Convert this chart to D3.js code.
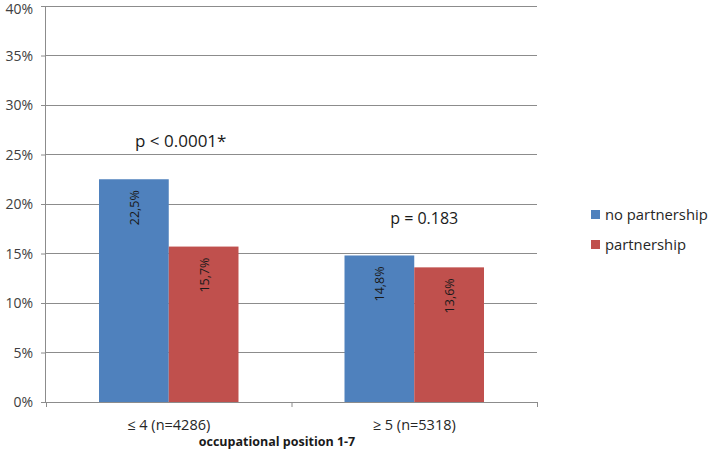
<!DOCTYPE html>
<html><head><meta charset="utf-8">
<script src="https://cdn.jsdelivr.net/npm/d3@7"></script>
<style>body{margin:0;background:#fff}svg{display:block}text{font-family:"Open Sans","DejaVu Sans",sans-serif}</style>
</head><body>
<svg id="c" width="709" height="451"></svg>
<script>
const categories = ["≤ 4 (n=4286)", "≥ 5 (n=5318)"];
const seriesNames = ["no partnership", "partnership"];
const noPartnership = [22.5, 14.8];
const partnership = [15.7, 13.6];
const valueLabels = [["22,5%", "14,8%"], ["15,7%", "13,6%"]];
const pLabels = ["p < 0.0001*", "p = 0.183"];
const yTicks = [0, 5, 10, 15, 20, 25, 30, 35, 40];
const colors = ["#4f81bd", "#c0504d"];

const svg = d3.select("#c");
const L = 46, R = 537, T = 6, B = 402;
const y = d3.scaleLinear().domain([0, 40]).range([B, T]);
const x = d3.scaleBand().domain(categories).range([L, R]);
const xs = d3.scaleBand().domain(seriesNames).range([0, x.bandwidth()]).paddingOuter(0.76).paddingInner(0);

// gridlines
svg.append("g").selectAll("line").data(yTicks.filter(d => d > 0)).join("line")
  .attr("x1", L).attr("x2", R).attr("y1", d => y(d)).attr("y2", d => y(d))
  .attr("stroke", "#8c8c8c").attr("stroke-width", 1).attr("shape-rendering", "crispEdges");

// y axis
const yAxis = d3.axisLeft(y).tickValues(yTicks).tickFormat(d => d + "%").tickSize(5).tickPadding(8);
const gy = svg.append("g").attr("transform", `translate(${L},0)`).call(yAxis);
gy.select(".domain").attr("stroke", "#8c8c8c").attr("d", `M-0.5,${T}V${B}`);
gy.selectAll(".tick line").attr("stroke", "#8c8c8c");
gy.selectAll(".tick text").attr("font-size", 14).attr("fill", "#404040").attr("dy", "0.34em")
  .filter(d => d === 40).attr("dy", "0.5em");

// bars
const series = [noPartnership, partnership];
series.forEach((vals, si) => {
  svg.append("g").selectAll("rect").data(vals).join("rect")
    .attr("x", (d, i) => x(categories[i]) + xs(seriesNames[si]))
    .attr("y", d => y(d)).attr("width", xs.bandwidth()).attr("height", d => B - y(d))
    .attr("fill", colors[si]);
  svg.append("g").selectAll("text").data(vals).join("text")
    .attr("transform", (d, i) => `translate(${x(categories[i]) + xs(seriesNames[si]) + xs.bandwidth() / 2 + 5},${y(d) + 11}) rotate(-90)`)
    .attr("text-anchor", "end").attr("font-size", 12.5).attr("fill", "#1a1a1a")
    .text((d, i) => valueLabels[si][i]);
});

// x axis
const gx = svg.append("g").attr("transform", `translate(0,${B})`);
gx.append("line").attr("x1", L).attr("x2", R).attr("y1", 0.5).attr("y2", 0.5).attr("stroke", "#8c8c8c");
gx.selectAll("line.t").data([L, x(categories[1]), R]).join("line").attr("class", "t")
  .attr("x1", d => d + 0.5).attr("x2", d => d + 0.5).attr("y1", 0).attr("y2", 5).attr("stroke", "#8c8c8c");
gx.selectAll("text").data(categories).join("text")
  .attr("x", d => x(d) + x.bandwidth() / 2).attr("y", 28).attr("text-anchor", "middle")
  .attr("font-size", 14.5).attr("fill", "#262626").text(d => d);
svg.append("text").attr("x", 277).attr("y", 446).attr("text-anchor", "middle")
  .attr("font-size", 12.5).attr("font-weight", "bold").attr("fill", "#1a1a1a").text("occupational position 1-7");

// p labels
const pY = [147, 224];
const pSize = [17, 16];
svg.append("g").selectAll("text").data(pLabels).join("text")
  .attr("x", (d, i) => x(categories[i]) + x.bandwidth() / 2 + (i === 0 ? 12 : 10)).attr("y", (d, i) => pY[i])
  .attr("text-anchor", "middle").attr("font-size", (d, i) => pSize[i]).attr("fill", "#1a1a1a").text(d => d);

// legend
const lg = svg.append("g").attr("transform", "translate(591,210)");
seriesNames.forEach((n, i) => {
  lg.append("rect").attr("x", 0).attr("y", i * 30).attr("width", 9).attr("height", 9).attr("fill", colors[i]);
  lg.append("text").attr("x", 14).attr("y", i * 30 + 10).attr("font-size", 14.8).attr("fill", "#262626").text(n);
});
</script>
</body></html>
